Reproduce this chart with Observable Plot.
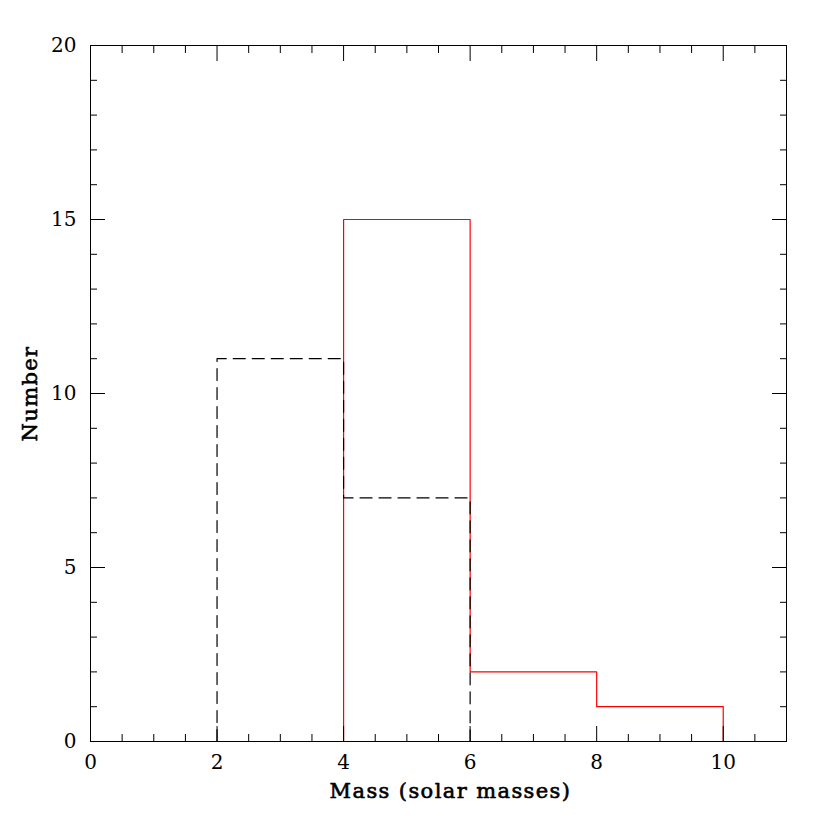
<!DOCTYPE html>
<html><head><meta charset="utf-8">
<script src="https://cdn.jsdelivr.net/npm/d3@7"></script>
<script src="https://cdn.jsdelivr.net/npm/@observablehq/plot@0.6"></script>
<style>
body{margin:0;background:#fff}
svg g[aria-label="text"] text{letter-spacing:1.4px}
</style>
</head><body><div id="chart"></div>
<script>
// Histogram bin left edges (last value = right edge of last bin)
const binEdges = [2, 4, 6, 8, 10, 12];
// Dashed black histogram counts
const blackCounts = [11, 7, 0, 0, 0];
// Solid red histogram counts
const redCounts = [0, 15, 2, 1, 0];
// Tick positions
const xMajor = [0, 2, 4, 6, 8, 10];
const xMinor = [0.5, 1, 1.5, 2.5, 3, 3.5, 4.5, 5, 5.5, 6.5, 7, 7.5, 8.5, 9, 9.5, 10.5];
const yMajor = [0, 5, 10, 15, 20];
const yMinor = [1, 2, 3, 4, 6, 7, 8, 9, 11, 12, 13, 14, 16, 17, 18, 19];
const xLabel = "Mass (solar masses)";
const yLabel = "Number";

function steps(edges, counts) {
  const pts = [{x: edges[0], y: 0}];
  counts.forEach((c, i) => pts.push({x: edges[i], y: c}));
  pts.push({x: edges[edges.length - 1], y: 0});
  return pts;
}

const FONT = "DejaVu Serif";
const FS = 20;
const blank = () => "";

const plot = Plot.plot({
  width: 830,
  height: 830,
  marginLeft: 90,
  marginRight: 44,
  marginTop: 45,
  marginBottom: 89,
  x: {domain: [0, 11]},
  y: {domain: [0, 20]},
  style: {fontFamily: FONT, fontSize: FS + "px", color: "#000", background: "#fff"},
  marks: [
    Plot.line(steps(binEdges, redCounts), {x: "x", y: "y", curve: "step-after", stroke: "#ff0000", strokeWidth: 1.2, clip: true}),
    Plot.line(steps(binEdges, blackCounts), {x: "x", y: "y", curve: "step-after", stroke: "#000", strokeWidth: 1.2, strokeDasharray: "12,7", clip: true}),
    Plot.frame({stroke: "#000"}),
    // inward ticks on all four sides
    Plot.axisX(xMajor, {anchor: "bottom", tickSize: -15, tickFormat: blank, label: null}),
    Plot.axisX(xMinor, {anchor: "bottom", tickSize: -7, tickFormat: blank, label: null}),
    Plot.axisX(xMajor, {anchor: "top", tickSize: -15, tickFormat: blank, label: null}),
    Plot.axisX(xMinor, {anchor: "top", tickSize: -7, tickFormat: blank, label: null}),
    Plot.axisY(yMajor, {anchor: "left", tickSize: -15, tickFormat: blank, label: null}),
    Plot.axisY(yMinor, {anchor: "left", tickSize: -7, tickFormat: blank, label: null}),
    Plot.axisY(yMajor, {anchor: "right", tickSize: -15, tickFormat: blank, label: null}),
    Plot.axisY(yMinor, {anchor: "right", tickSize: -7, tickFormat: blank, label: null}),
    // tick labels
    Plot.axisX(xMajor, {anchor: "bottom", tickSize: 0, tickPadding: 13, fontSize: FS, label: null}),
    Plot.axisY(yMajor, {anchor: "left", tickSize: 0, tickPadding: 14, fontSize: FS, label: null}),
    // axis titles
    Plot.text([xLabel], {frameAnchor: "bottom", textAnchor: "middle", dx: 12, dy: 50, text: d => d, fontSize: 21, fill: "#000", stroke: "#000", strokeWidth: 0.6, lineAnchor: "middle"}),
    Plot.text([yLabel], {frameAnchor: "left", textAnchor: "middle", dx: -60, text: d => d, fontSize: 21, fill: "#000", stroke: "#000", strokeWidth: 0.6, rotate: -90, lineAnchor: "middle"})
  ]
});
document.getElementById("chart").appendChild(plot);
</script>
</body></html>
